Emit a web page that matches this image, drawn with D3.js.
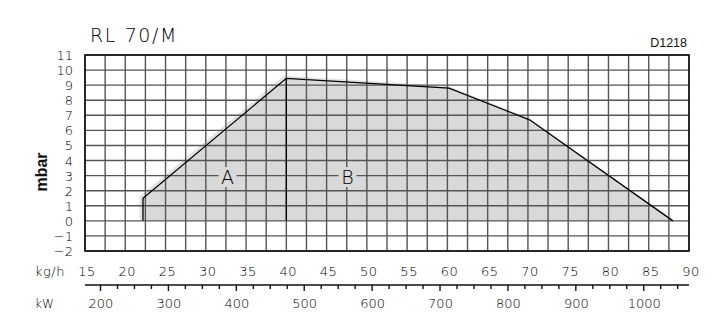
<!DOCTYPE html>
<html>
<head>
<meta charset="utf-8">
<script src="https://cdn.jsdelivr.net/npm/d3@7"></script>
<style>
  body { margin: 0; background: #fff; }
  svg { display: block; }
  text { font-family: "DejaVu Sans", sans-serif; font-weight: 200; fill: #000; }
  text.arial { font-family: "Liberation Sans", Arial, sans-serif; font-weight: normal; fill: #111; }
</style>
</head>
<body>
<div id="chartArea"></div>
<script>
// working field of the burner, kg/h vs mbar
var envelope = [
    { x: 22.2, y: 0 },
    { x: 22.2, y: 1.5 },
    { x: 40, y: 9.45 },
    { x: 60.2, y: 8.8 },
    { x: 70.2, y: 6.7 },
    { x: 88, y: 0 }
];
var divider = [{ x: 40, y: 0 }, { x: 40, y: 9.45 }];
var zoneLabels = [
    { name: 'A', x: 32.7, y: 2.9 },
    { name: 'B', x: 47.6, y: 2.9 }
];
var yTicks = [-2, -1, 0, 1, 2, 3, 4, 5, 6, 7, 8, 9, 10, 11];
var xTicks = [15, 20, 25, 30, 35, 40, 45, 50, 55, 60, 65, 70, 75, 80, 85, 90];
var kwTicks = [200, 300, 400, 500, 600, 700, 800, 900, 1000];
var kwPerKg = 11.86;

var w = 727, h = 317;
var plot = { left: 85, right: 689, top: 55, bottom: 251 };

var svg = d3.select('#chartArea').append('svg')
    .attr('width', w)
    .attr('height', h);

var xScale = d3.scaleLinear()
    .domain([15, 90])
    .range([plot.left, plot.right]);

var yScale = d3.scaleLinear()
    .domain([-2, 11])
    .range([plot.bottom, plot.top]);

var kwScale = d3.scaleLinear()
    .domain([15 * kwPerKg, 90 * kwPerKg])
    .range([plot.left, plot.right]);

var area = d3.line()
    .x(function(d) { return xScale(d.x); })
    .y(function(d) { return yScale(d.y); });

// soft halo around the field
svg.append('path')
    .datum(envelope)
    .attr('d', area)
    .attr('transform', 'translate(-2,-1)')
    .attr('fill', '#e4e4e4')
    .attr('stroke', '#e2e2e2')
    .attr('stroke-width', 3);

svg.append('path')
    .datum(envelope)
    .attr('d', area)
    .attr('fill', '#d9d9d9');

// grid
var gridX = d3.range(15, 90.01, 2.5);
svg.selectAll('line.vgrid')
    .data(gridX)
    .enter()
    .append('line')
    .attr('class', 'vgrid')
    .attr('x1', function(d) { return xScale(d); })
    .attr('x2', function(d) { return xScale(d); })
    .attr('y1', plot.top)
    .attr('y2', plot.bottom)
    .attr('stroke', '#555')
    .attr('stroke-width', 1.4);

svg.selectAll('line.hgrid')
    .data(yTicks)
    .enter()
    .append('line')
    .attr('class', 'hgrid')
    .attr('x1', plot.left)
    .attr('x2', plot.right)
    .attr('y1', function(d) { return yScale(d); })
    .attr('y2', function(d) { return yScale(d); })
    .attr('stroke', '#555')
    .attr('stroke-width', 1.4);

svg.append('rect')
    .attr('x', plot.left)
    .attr('y', plot.top)
    .attr('width', plot.right - plot.left)
    .attr('height', plot.bottom - plot.top)
    .attr('fill', 'none')
    .attr('stroke', '#111')
    .attr('stroke-width', 1.6);

// outline of the field
svg.append('path')
    .datum(envelope)
    .attr('d', area)
    .attr('fill', 'none')
    .attr('stroke', '#000')
    .attr('stroke-width', 1.3);

svg.append('path')
    .datum(divider)
    .attr('d', area)
    .attr('fill', 'none')
    .attr('stroke', '#000')
    .attr('stroke-width', 1.3);

// zone letters with a gap in the grid
svg.selectAll('rect.zone')
    .data(zoneLabels)
    .enter()
    .append('rect')
    .attr('class', 'zone')
    .attr('x', function(d) { return xScale(d.x) - 9; })
    .attr('y', function(d) { return yScale(d.y) - 10; })
    .attr('width', 18)
    .attr('height', 20)
    .attr('fill', '#d9d9d9');

svg.selectAll('text.zone')
    .data(zoneLabels)
    .enter()
    .append('text')
    .attr('class', 'zone')
    .attr('x', function(d) { return xScale(d.x); })
    .attr('y', function(d) { return yScale(d.y) + 7; })
    .attr('text-anchor', 'middle')
    .style('font-size', '19px')
    .text(function(d) { return d.name; });

// y axis labels
svg.selectAll('text.ylab')
    .data(yTicks)
    .enter()
    .append('text')
    .attr('class', 'ylab')
    .attr('x', 73)
    .attr('y', function(d) { return yScale(d) + 5; })
    .attr('text-anchor', 'end')
    .style('font-size', '13px')
    .text(function(d) { return d < 0 ? '\u2212' + Math.abs(d) : d; });

svg.append('text')
    .attr('class', 'arial')
    .attr('transform', 'translate(47,172) rotate(-90)')
    .attr('text-anchor', 'middle')
    .style('font-size', '16px')
    .style('font-weight', 'bold')
    .text('mbar');

// kg/h labels
svg.selectAll('text.xlab')
    .data(xTicks)
    .enter()
    .append('text')
    .attr('class', 'xlab')
    .attr('x', function(d) { return xScale(d) + 2; })
    .attr('y', 276)
    .attr('text-anchor', 'middle')
    .style('font-size', '13px')
    .style('letter-spacing', '0.5px')
    .text(function(d) { return d; });

svg.append('text')
    .attr('x', 35)
    .attr('y', 276)
    .style('font-size', '13px')
    .style('letter-spacing', '0.5px')
    .text('kg/h');

// kW axis
var kwAxis = d3.axisBottom(kwScale)
    .tickValues(d3.range(200, 1051, 25))
    .tickSize(4)
    .tickFormat('');

var kwG = svg.append('g')
    .attr('transform', 'translate(0,285)')
    .call(kwAxis);
kwG.select('.domain')
    .attr('d', 'M' + plot.left + ',0H' + plot.right)
    .attr('stroke', '#111')
    .attr('stroke-width', 1.4);
kwG.selectAll('.tick line')
    .attr('stroke', '#111')
    .attr('stroke-width', 1.4)
    .attr('y2', function(d) { return d % 100 === 0 ? 6 : 4; });

svg.selectAll('text.kwlab')
    .data(kwTicks)
    .enter()
    .append('text')
    .attr('class', 'kwlab')
    .attr('x', function(d) { return kwScale(d) + 1; })
    .attr('y', 308)
    .attr('text-anchor', 'middle')
    .style('font-size', '13px')
    .text(function(d) { return d; });

svg.append('text')
    .attr('x', 35)
    .attr('y', 308)
    .style('font-size', '12px')
    .text('kW');

// titles
svg.append('text')
    .attr('x', 90)
    .attr('y', 42)
    .style('font-size', '19px')
    .style('letter-spacing', '1.6px')
    .text('RL 70/M');

svg.append('text')
    .attr('class', 'arial')
    .attr('x', 687)
    .attr('y', 47)
    .attr('text-anchor', 'end')
    .style('font-size', '12.5px')
    .text('D1218');
</script>
</body>
</html>
